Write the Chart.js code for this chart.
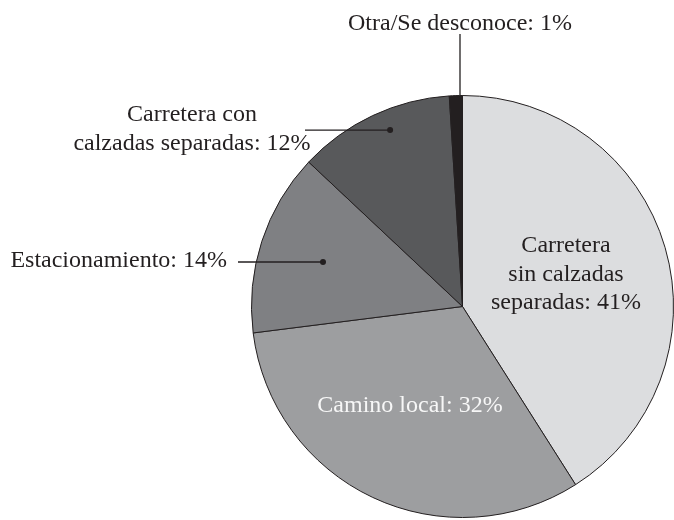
<!DOCTYPE html>
<html>
<head>
<meta charset="utf-8">
<style>
  html, body { margin: 0; padding: 0; background: #ffffff; }
  canvas { display: block; }
</style>
<script src="https://cdn.jsdelivr.net/npm/chart.js@4/dist/chart.umd.min.js"></script>
</head>
<body>
<canvas id="c" width="674" height="520"></canvas>
<script>
// ---- Data ----
const categories = [
  ['Carretera', 'sin calzadas', 'separadas'],
  ['Camino local'],
  ['Estacionamiento'],
  ['Carretera con', 'calzadas separadas'],
  ['Otra/Se desconoce']
];
const values = [41, 32, 14, 12, 1];
const sliceColors = ['#dcdddf', '#9d9ea0', '#7f8083', '#58595b', '#231f20'];

// ---- Label layout (style only) ----
const labelLayout = [
  { x: 566, baselines: [252, 280.5, 309], align: 'center', color: '#231f20' },
  { x: 410, baselines: [411.5], align: 'center', color: '#f7f7f7' },
  { x: 227, baselines: [267], align: 'right', color: '#231f20',
    leader: { type: 'dot', t: 0.494, r: 0.694, lineX: 238 } },
  { x: 192, baselines: [121, 150], align: 'center', color: '#231f20',
    leader: { type: 'dot', t: 0.567, r: 0.904, lineX: 305 } },
  { x: 460, baselines: [30], align: 'center', color: '#231f20',
    leader: { type: 'edge', x: 460, topY: 34 } }
];

const labelPlugin = {
  id: 'pieLabels',
  afterDraw(chart) {
    const ctx = chart.ctx;
    const meta = chart.getDatasetMeta(0);
    ctx.save();
    ctx.font = '24px "Liberation Serif", "Times New Roman", serif';
    ctx.textBaseline = 'alphabetic';
    meta.data.forEach((arc, i) => {
      const L = labelLayout[i];
      const p = arc.getProps(['x', 'y', 'startAngle', 'endAngle', 'outerRadius'], true);
      const lines = categories[i].slice();
      lines[lines.length - 1] = lines[lines.length - 1] + ': ' + values[i] + '%';
      ctx.fillStyle = L.color;
      ctx.textAlign = L.align;
      lines.forEach((s, k) => ctx.fillText(s, L.x, L.baselines[k]));
      if (L.leader) {
        ctx.strokeStyle = '#231f20';
        ctx.fillStyle = '#231f20';
        ctx.lineWidth = 1.3;
        if (L.leader.type === 'dot') {
          const a = p.startAngle + (p.endAngle - p.startAngle) * L.leader.t;
          const dx = p.x + Math.cos(a) * p.outerRadius * L.leader.r;
          const dy = p.y + Math.sin(a) * p.outerRadius * L.leader.r;
          ctx.beginPath();
          ctx.moveTo(L.leader.lineX, dy);
          ctx.lineTo(dx, dy);
          ctx.stroke();
          ctx.beginPath();
          ctx.arc(dx, dy, 3, 0, Math.PI * 2);
          ctx.fill();
        } else {
          const ex = L.leader.x;
          const ey = p.y - Math.sqrt(Math.max(p.outerRadius * p.outerRadius - (ex - p.x) * (ex - p.x), 0));
          ctx.beginPath();
          ctx.moveTo(ex, L.leader.topY);
          ctx.lineTo(ex, ey);
          ctx.stroke();
        }
      }
    });
    ctx.restore();
  }
};

new Chart(document.getElementById('c'), {
  type: 'pie',
  data: {
    labels: categories,
    datasets: [{
      data: values,
      backgroundColor: sliceColors,
      borderColor: '#231f20',
      borderWidth: 1
    }]
  },
  options: {
    responsive: false,
    animation: false,
    rotation: 0,
    layout: { padding: { left: 251, top: 95, right: 0, bottom: 2 } },
    plugins: {
      legend: { display: false },
      tooltip: { enabled: false }
    }
  },
  plugins: [labelPlugin]
});
</script>
</body>
</html>
